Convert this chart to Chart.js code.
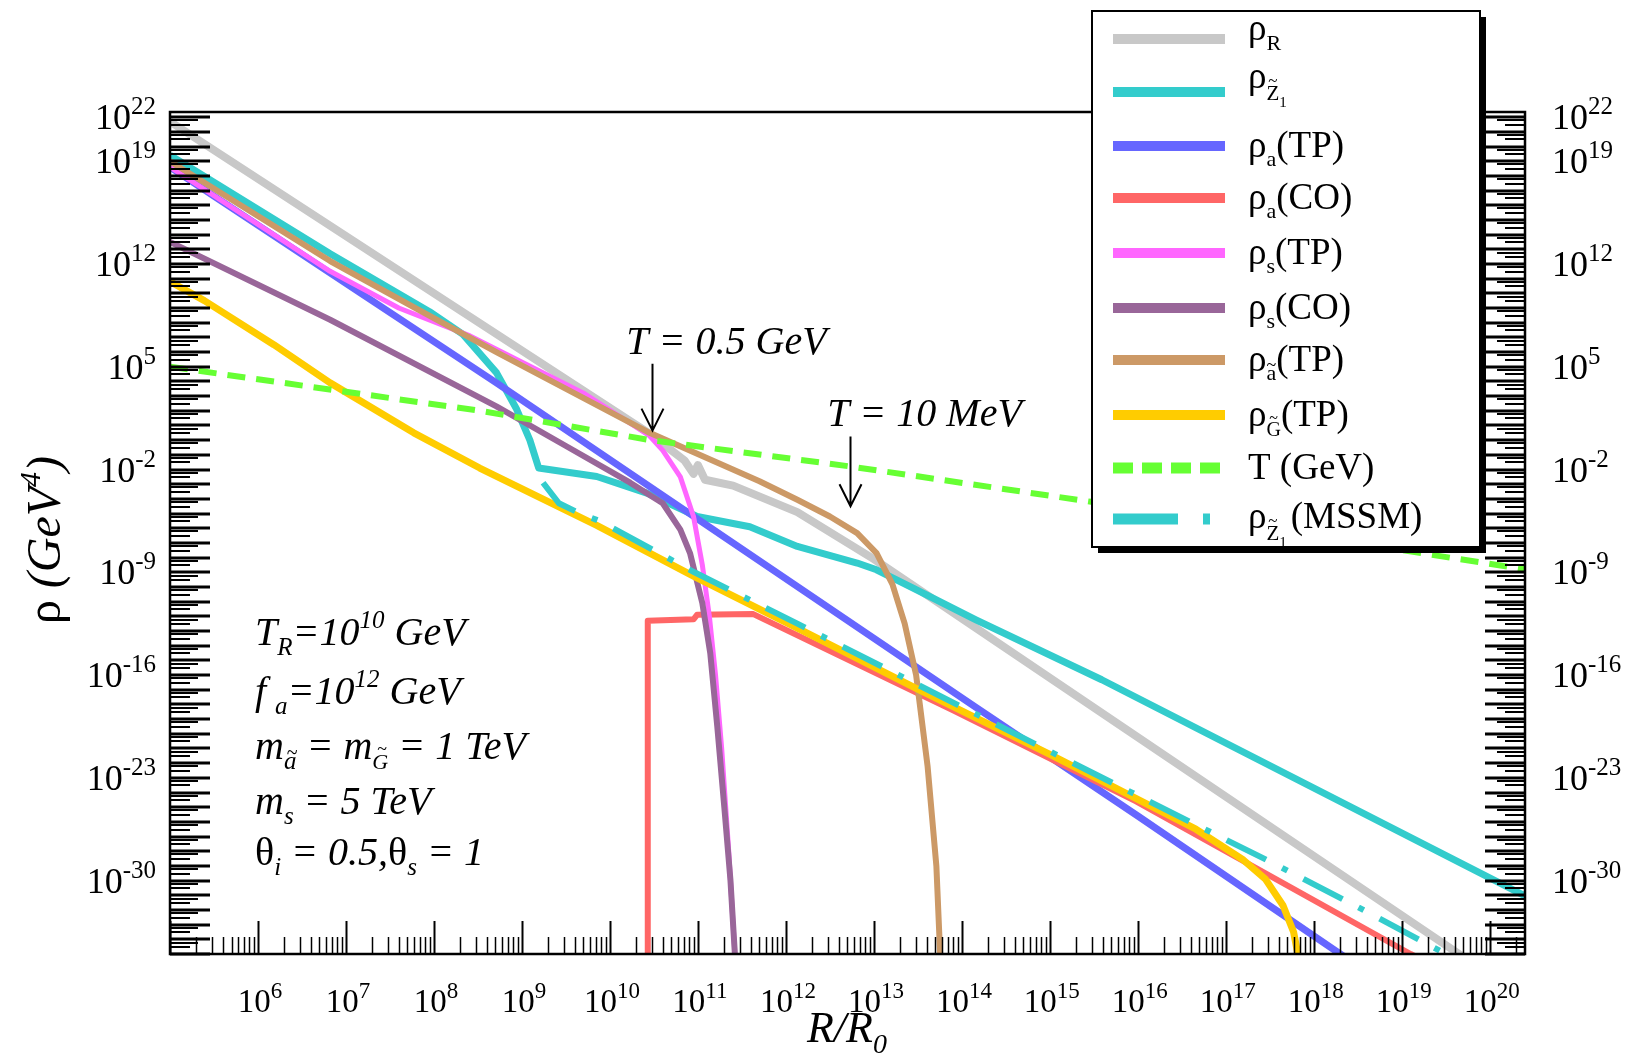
<!DOCTYPE html>
<html>
<head>
<meta charset="utf-8">
<script src="https://cdn.jsdelivr.net/npm/chart.js@4.4.1/dist/chart.umd.min.js"></script>
<style>
html, body { margin: 0; padding: 0; background: #fff; }
#wrap { position: relative; width: 1629px; height: 1058px; }
</style>
</head>
<body>
<div id="wrap"><canvas id="chart"></canvas></div>
<script>
'use strict';

// Axis extent, in decades
const xDecades = [5, 20.4];
const yDecades = [-35, 22.35];

// Labelled decades on each axis
const xTickExps = [6, 7, 8, 9, 10, 11, 12, 13, 14, 15, 16, 17, 18, 19, 20];
const yTickExps = [22, 19, 12, 5, -2, -9, -16, -23, -30];

// Every curve: log10(R/R0) and log10(rho / GeV^4)
const rhoRLogR = [5, 10.45, 10.85, 10.95, 11.0, 11.08, 11.4, 12.13, 13, 19.65, 20.4];
const rhoRLogRho = [21.7, 0.45, -1.4, -2.3, -1.7, -2.7, -3.1, -4.9, -8.1, -35, -38];

const neutralinoLogR = [5, 6.82, 7.95, 8.33, 8.71, 8.94, 9.09, 9.19, 9.85, 10.42, 10.99, 11.59, 12.13, 12.81, 13.03, 13.48, 14.16, 15.59, 20.4];
const neutralinoLogRho = [19.4, 12.7, 8.75, 7.2, 4.6, 2.1, 0.0, -1.9, -2.48, -3.61, -5.2, -5.9, -7.24, -8.37, -8.83, -10.19, -12.24, -16.32, -31.05];

const axionTPLogR = [5, 8.71, 14.16, 16, 18.3, 18.5];
const axionTPLogRho = [18.6, 3.9, -18.2, -25.6, -35, -35.8];

const axionCOLogR = [10.43, 10.43, 10.95, 10.99, 11.63, 13.9, 15.98, 19.1, 19.3];
const axionCOLogRho = [-36, -12.3, -12.2, -11.9, -11.85, -18.4, -24.6, -35, -35.6];

const saxionTPLogR = [5, 6.82, 7.6, 8.41, 9.7, 10.45, 10.6, 10.8, 10.95, 11.05, 11.13, 11.2, 11.27, 11.35, 11.43];
const saxionTPLogRho = [18.6, 11.5, 9.0, 7.1, 3.2, 0.3, -0.7, -2.5, -5.2, -8.5, -12, -16, -21, -28, -36];

const saxionCOLogR = [5, 6.82, 8.71, 9.5, 10.23, 10.6, 10.8, 10.91, 11.05, 11.14, 11.22, 11.3, 11.37, 11.43];
const saxionCOLogRho = [13.5, 8.2, 2.3, -0.4, -2.9, -4.3, -6.1, -7.69, -11.1, -14.5, -19.5, -25, -30, -36];

const axinoLogR = [5, 6.82, 7.8, 8.71, 10.45, 11.23, 11.7, 12.13, 12.5, 12.81, 13.03, 13.21, 13.35, 13.48, 13.61, 13.71, 13.76];
const axinoLogRho = [19.0, 12.2, 8.95, 6.0, 0.5, -1.56, -2.8, -4.06, -5.2, -6.33, -7.69, -9.8, -12.5, -16.0, -22.2, -29, -36];

const gravitinoLogR = [5, 5.39, 6.18, 6.82, 7.77, 8.52, 9.85, 10.96, 12.13, 13.48, 15, 16.66, 17.2, 17.45, 17.65, 17.77, 17.85];
const gravitinoLogRho = [10.8, 9.5, 6.5, 3.9, 0.5, -1.9, -5.8, -9.3, -12.8, -16.9, -21.4, -26.5, -28.6, -29.9, -31.7, -33.5, -36];

const tempLogR = [5, 6.57, 8.52, 10.46, 12.74, 15.47, 20.4];
const tempLogGeV = [5.0, 3.66, 2.0, 0.0, -1.8, -4.2, -8.8];

const mssmLogR = [9.24, 9.42, 9.66, 9.88, 10.96, 12.13, 13.48, 15, 16.66, 17.5, 18.5, 19.5, 19.7];
const mssmLogRho = [-2.9, -4.3, -5.0, -5.5, -9.0, -12.5, -16.6, -21.2, -26.2, -28.7, -31.8, -35, -35.6];

// Arrows marking the two temperatures: R/R0 decade, then top and tip in rho decades
const arrowMarks = [
    { text: 'T = 0.5 GeV', logR: 10.48, from: 5.2, to: 0.65 },
    { text: 'T = 10 MeV', logR: 12.73, from: 0.25, to: -4.5 }
];

const SERIF = '"Liberation Serif", "Times New Roman", serif';

const run = (t, size, opts = {}) => Object.assign({ t, size }, opts);
const ital = (t, size, opts = {}) => run(t, size, Object.assign({ italic: true }, opts));

const series = [
    { label: 'ρR', logR: rhoRLogR, logRho: rhoRLogRho, color: '#c8c8c8', width: 8 },
    { label: 'ρZ1', logR: neutralinoLogR, logRho: neutralinoLogRho, color: '#33cccc', width: 7 },
    { label: 'ρa(TP)', logR: axionTPLogR, logRho: axionTPLogRho, color: '#6666ff', width: 7 },
    { label: 'ρa(CO)', logR: axionCOLogR, logRho: axionCOLogRho, color: '#ff6666', width: 6 },
    { label: 'ρs(TP)', logR: saxionTPLogR, logRho: saxionTPLogRho, color: '#ff66ff', width: 5 },
    { label: 'ρs(CO)', logR: saxionCOLogR, logRho: saxionCOLogRho, color: '#996699', width: 6 },
    { label: 'ρã(TP)', logR: axinoLogR, logRho: axinoLogRho, color: '#cc9966', width: 6 },
    { label: 'ρG(TP)', logR: gravitinoLogR, logRho: gravitinoLogRho, color: '#ffcc00', width: 7 },
    { label: 'T (GeV)', logR: tempLogR, logRho: tempLogGeV, color: '#66ff33', width: 6, dash: [18, 11], legendDash: [20, 9] },
    { label: 'ρZ1(MSSM)', logR: mssmLogR, logRho: mssmLogRho, color: '#33cccc', width: 6, dash: [44, 18, 6, 18], legendDash: [65, 25, 7, 200] }
];

// Legend text, one row per dataset
const LF = 37;
const rho = () => run('ρ', LF);
const legendRows = [
    { shift: 1, parts: [rho(), run('R', 22, { dy: 10 })] },
    { shift: -4, parts: [rho(), run('Z', 21, { dy: 12, tilde: true }), run('1', 15, { dy: 19 })] },
    { shift: 11, parts: [rho(), run('a', 22, { dy: 9 }), run('(TP)', LF)] },
    { shift: 11, parts: [rho(), run('a', 22, { dy: 9 }), run('(CO)', LF)] },
    { shift: 11, parts: [rho(), run('s', 22, { dy: 9 }), run('(TP)', LF)] },
    { shift: 11, parts: [rho(), run('s', 22, { dy: 9 }), run('(CO)', LF)] },
    { shift: 11, parts: [rho(), run('a', 22, { dy: 9, tilde: true }), run('(TP)', LF)] },
    { shift: 11, parts: [rho(), run('G', 20, { dy: 10, tilde: true }), run('(TP)', LF)] },
    { shift: 11, parts: [run('T (GeV)', LF)] },
    { shift: 9, parts: [rho(), run('Z', 21, { dy: 12, tilde: true }), run('1', 15, { dy: 19 }), run('(MSSM)', LF, { pad: 4 })] }
];
const legendRowY = [39, 92, 146, 198, 253, 308, 360, 415, 468, 519];

// Parameter block in the lower left
const NF = 40;
const notes = [
    [ital('T', NF), ital('R', 25, { dy: 10 }), ital('=10', NF), ital('10', 25, { dy: -17 }), ital(' GeV', NF)],
    [ital('f', NF), ital('a', 25, { dy: 10, pad: 9 }), ital('=10', NF), ital('12', 25, { dy: -17 }), ital(' GeV', NF)],
    [ital('m', NF), ital('a', 25, { dy: 10, tilde: true }), ital(' = m', NF), ital('G', 22, { dy: 10, tilde: true }), ital(' = 1 TeV', NF)],
    [ital('m', NF), ital('s', 25, { dy: 10 }), ital(' = 5 TeV', NF)],
    [run('θ', NF), ital('i', 25, { dy: 10 }), ital(' = 0.5,', NF), run('θ', NF), ital('s', 25, { dy: 10 }), ital(' = 1', NF)]
];
const notesBaseline = [645, 704, 759, 814, 865];

function fontOf(p) {
    return (p.italic ? 'italic ' : '') + p.size + 'px ' + SERIF;
}

// Draws a run of text pieces with sub/superscripts and tilde accents
function drawRich(ctx, parts, x, y, align) {
    let total = 0;
    for (const p of parts) {
        ctx.font = fontOf(p);
        p.w = ctx.measureText(p.t).width + (p.pad || 0);
        total += p.w;
    }
    let cx = align === 'right' ? x - total : align === 'center' ? x - total / 2 : x;
    ctx.textAlign = 'left';
    ctx.textBaseline = 'alphabetic';
    for (const p of parts) {
        ctx.font = fontOf(p);
        const gx = cx + (p.pad || 0);
        ctx.fillText(p.t, gx, y + (p.dy || 0));
        if (p.tilde) {
            const gw = p.w - (p.pad || 0);
            const top = /[A-Z]/.test(p.t) ? 0.95 : 0.7;
            ctx.font = Math.round(p.size * 0.8) + 'px ' + SERIF;
            ctx.textAlign = 'center';
            ctx.fillText('~', gx + gw / 2 + (p.italic ? 2 : 0), y + (p.dy || 0) - p.size * top + p.size * 0.3);
            ctx.textAlign = 'left';
        }
        cx += p.w;
    }
}

function tickLabel(exp, big, small, rise) {
    return [run('10', big), run(String(exp), small, { dy: -rise })];
}

const decorations = {
    id: 'decorations',
    beforeDraw(chart) {
        const ctx = chart.ctx;
        ctx.save();
        ctx.fillStyle = '#fff';
        ctx.fillRect(0, 0, chart.width, chart.height);
        ctx.restore();
    },
    afterDatasetsDraw(chart) {
        const ctx = chart.ctx;
        const area = chart.chartArea;
        const xs = chart.scales.x;
        const ys = chart.scales.y;
        ctx.save();
        ctx.strokeStyle = '#000';
        ctx.fillStyle = '#000';

        // inward ticks on left and right: a long one per decade, shorter ones between
        for (let e = Math.floor(yDecades[0]); e <= Math.ceil(yDecades[1]); e++) {
            for (const m of [1, 3, 6]) {
                const v = m * Math.pow(10, e);
                if (v < ys.min || v > ys.max) continue;
                const py = Math.round(ys.getPixelForValue(v));
                const len = m === 1 ? 40 : m === 3 ? 20 : 28;
                ctx.lineWidth = m === 1 ? 3 : 2;
                ctx.beginPath();
                ctx.moveTo(area.left, py);
                ctx.lineTo(area.left + len, py);
                ctx.moveTo(area.right, py);
                ctx.lineTo(area.right - len, py);
                ctx.stroke();
            }
        }
        // bottom: decade ticks plus the usual 2..9 minor ticks
        for (let e = Math.floor(xDecades[0]); e <= Math.ceil(xDecades[1]); e++) {
            for (let m = 1; m <= 9; m++) {
                const v = m * Math.pow(10, e);
                if (v < xs.min || v > xs.max) continue;
                const px = Math.round(xs.getPixelForValue(v)) + 0.5;
                const len = m === 1 ? 33 : 17;
                ctx.lineWidth = m === 1 ? 2 : 1.5;
                ctx.beginPath();
                ctx.moveTo(px, area.bottom);
                ctx.lineTo(px, area.bottom - len);
                ctx.stroke();
            }
        }

        // frame
        ctx.lineWidth = 2.5;
        ctx.strokeRect(area.left, area.top, area.right - area.left, area.bottom - area.top);

        // tick labels
        for (const e of yTickExps) {
            const py = ys.getPixelForValue(Math.pow(10, e));
            drawRich(ctx, tickLabel(e, 36, 25, 15), area.left - 14, py + 12, 'right');
            drawRich(ctx, tickLabel(e, 36, 25, 15), area.right + 27, py + 12, 'left');
        }
        for (const e of xTickExps) {
            const px = xs.getPixelForValue(Math.pow(10, e));
            drawRich(ctx, tickLabel(e, 33, 23, 14), px + 2, 1012, 'center');
        }

        // axis titles
        drawRich(ctx, [ital('R', 44), ital('/', 44), ital('R', 44), ital('0', 28, { dy: 11 })], 847, 1042, 'center');
        ctx.save();
        ctx.translate(44, 540);
        ctx.rotate(-Math.PI / 2);
        drawRich(ctx, [run('ρ', 48), ital(' (GeV', 48), ital('4', 30, { dy: -20 }), ital(')', 48)], 0, 16, 'center');
        ctx.restore();

        // temperature arrows
        for (const a of arrowMarks) {
            const px = Math.round(xs.getPixelForValue(Math.pow(10, a.logR))) + 0.5;
            const top = ys.getPixelForValue(Math.pow(10, a.from));
            const tip = ys.getPixelForValue(Math.pow(10, a.to));
            drawRich(ctx, [ital(a.text, 40)], px + 74, top - 10, 'center');
            ctx.lineWidth = 2;
            ctx.beginPath();
            ctx.moveTo(px, top);
            ctx.lineTo(px, tip);
            ctx.moveTo(px - 11, tip - 22);
            ctx.lineTo(px, tip);
            ctx.lineTo(px + 11, tip - 22);
            ctx.stroke();
        }

        // parameter block
        notes.forEach((line, i) => drawRich(ctx, line, 255, notesBaseline[i], 'left'));

        // legend box with drop shadow
        const box = { left: 1092, top: 11, right: 1480, bottom: 547 };
        ctx.fillStyle = '#000';
        ctx.fillRect(box.left + 6, box.top + 6, box.right - box.left, box.bottom - box.top);
        ctx.fillStyle = '#fff';
        ctx.fillRect(box.left, box.top, box.right - box.left, box.bottom - box.top);
        ctx.lineWidth = 2;
        ctx.strokeRect(box.left, box.top, box.right - box.left, box.bottom - box.top);

        ctx.save();
        ctx.beginPath();
        ctx.rect(box.left, box.top, box.right - box.left, box.bottom - box.top);
        ctx.clip();
        chart.data.datasets.forEach((ds, i) => {
            const s = series[i];
            const y = legendRowY[i];
            ctx.strokeStyle = ds.borderColor;
            ctx.lineWidth = s.dash ? 11 : 10;
            ctx.lineCap = 'butt';
            ctx.setLineDash(s.legendDash || []);
            ctx.beginPath();
            ctx.moveTo(1113, y);
            ctx.lineTo(1225, y);
            ctx.stroke();
            ctx.setLineDash([]);
            ctx.fillStyle = '#000';
            drawRich(ctx, legendRows[i].parts, 1248, y + legendRows[i].shift, 'left');
        });
        ctx.restore();

        ctx.restore();
    }
};

const datasets = series.map((s, i) => ({
    label: s.label,
    data: s.logR.map((lx, k) => ({ x: Math.pow(10, lx), y: Math.pow(10, s.logRho[k]) })),
    borderColor: s.color,
    borderWidth: s.width,
    borderDash: s.dash || [],
    borderCapStyle: 'butt',
    borderJoinStyle: 'round',
    pointRadius: 0,
    fill: false,
    tension: 0,
    clip: 0,
    order: series.length - i
}));

new Chart(document.getElementById('chart'), {
    type: 'line',
    data: { datasets },
    options: {
        responsive: true,
        maintainAspectRatio: false,
        animation: false,
        layout: {
            padding: { left: 170, top: 112, right: 104, bottom: 104 }
        },
        plugins: {
            legend: { display: false },
            tooltip: { enabled: false }
        },
        scales: {
            x: {
                type: 'logarithmic',
                display: false,
                min: Math.pow(10, xDecades[0]),
                max: Math.pow(10, xDecades[1])
            },
            y: {
                type: 'logarithmic',
                display: false,
                min: Math.pow(10, yDecades[0]),
                max: Math.pow(10, yDecades[1])
            }
        }
    },
    plugins: [decorations]
});
</script>
</body>
</html>
